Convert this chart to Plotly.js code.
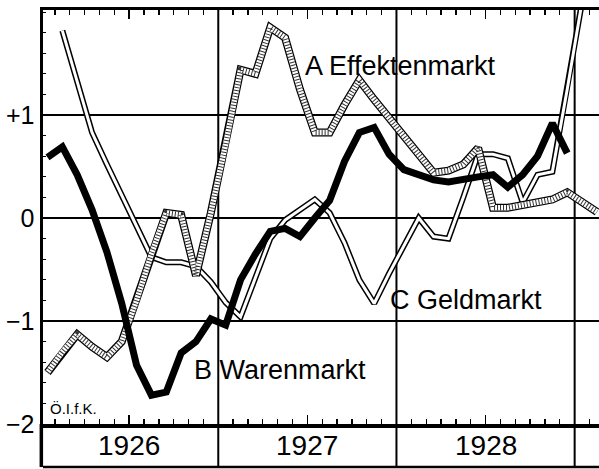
<!DOCTYPE html>
<html>
<head>
<meta charset="utf-8">
<script src="https://cdn.plot.ly/plotly-3.0.1.min.js"></script>
<style>html,body{margin:0;padding:0;background:#fff;}#chart{width:599px;height:469px;}</style>
</head>
<body>
<div id="chart"></div>
<script>
// month index: 0 = Jan 1926 (points at mid-month)
const months = Array.from({length: 38}, (_, i) => i);
const years = ['1926', '1927', '1928'];
const yearCenters = [5.5, 17.5, 29.5];
const yearBounds = [11.5, 23.5, 35.5];
const yTickVals = [-2, -1, 0, 1];
const yTickText = ['\u22122', '\u22121', '0', '+1'];

// A Effektenmarkt
const effekten = [-1.50, -1.30, -1.13, -1.25, -1.35, -1.20, -0.80, -0.35, 0.05, 0.03,
  -0.56, 0.05, 0.72, 1.44, 1.40, 1.85, 1.75, 1.25, 0.83, 0.83,
  1.10, 1.34, 1.15, 0.97, 0.79, 0.61, 0.44, 0.46, 0.52, 0.68,
  0.10, 0.10, 0.13, 0.15, 0.18, 0.25, 0.16, 0.06];
// B Warenmarkt
const waren = [0.59, 0.69, 0.42, 0.08, -0.33, -0.83, -1.43, -1.72, -1.69, -1.31,
  -1.20, -0.98, -1.04, -0.60, -0.35, -0.13, -0.10, -0.18, 0.00, 0.17,
  0.55, 0.83, 0.88, 0.62, 0.47, 0.42, 0.37, 0.35, 0.38, 0.40,
  0.42, 0.30, 0.42, 0.60, 0.92, 0.63, null, null];
// C Geldmarkt
const geld = [null, 1.82, 1.32, 0.83, 0.52, 0.22, -0.08, -0.38, -0.43, -0.43,
  -0.47, -0.62, -0.82, -0.96, -0.58, -0.20, -0.02, 0.08, 0.18, 0.05,
  -0.24, -0.60, -0.83, -0.54, -0.27, 0.00, -0.18, -0.20, 0.20, 0.62,
  0.62, 0.58, 0.15, 0.42, 0.45, 1.25, 2.10, null];

const monthBounds = Array.from({length: 38}, (_, i) => i - 0.5);

function tr(y, color, width, dash) {
  return {x: months, y: y, type: 'scatter', mode: 'lines', hoverinfo: 'skip',
    line: {color: color, width: width, dash: dash || 'solid'}, showlegend: false, connectgaps: false};
}

const traces = [
  tr(geld, '#000', 6), tr(geld, '#fff', 3),
  tr(effekten, '#000', 8), tr(effekten, '#fff', 5.5), tr(effekten, '#333', 5.5, '1px,2px'),
  tr(waren, '#000', 7)
];

const bandY = -0.104;
const shapes = [];
yearBounds.forEach(b => shapes.push({type: 'line', xref: 'x', yref: 'paper', x0: b, x1: b, y0: bandY, y1: 1,
  line: {color: '#000', width: 2}, layer: 'below'}));
shapes.push({type: 'line', xref: 'paper', yref: 'paper', x0: 0, x1: 1, y0: bandY, y1: bandY, line: {color: '#000', width: 2.5}});
shapes.push({type: 'line', xref: 'paper', yref: 'paper', x0: -0.003, x1: -0.003, y0: bandY, y1: 0, line: {color: '#000', width: 3.5}});

const font = 'Liberation Sans, Arial, sans-serif';
const annotations = [
  {x: 17.2, y: 1.48, xref: 'x', yref: 'y', text: 'A Effektenmarkt', showarrow: false, xanchor: 'left', yanchor: 'middle',
    font: {family: font, size: 27, color: '#000'}},
  {x: 9.73, y: -1.476, xref: 'x', yref: 'y', text: 'B Warenmarkt', showarrow: false, xanchor: 'left', yanchor: 'middle',
    font: {family: font, size: 27, color: '#000'}},
  {x: 22.93, y: -0.80, xref: 'x', yref: 'y', text: 'C Geldmarkt', showarrow: false, xanchor: 'left', yanchor: 'middle',
    font: {family: font, size: 27, color: '#000'}},
  {x: 0, y: -1.85, xref: 'x', yref: 'y', text: 'Ö.I.f.K.', showarrow: false, xanchor: 'left', yanchor: 'middle',
    font: {family: font, size: 15, color: '#000'}}
];
years.forEach((t, i) => annotations.push({x: yearCenters[i], y: -0.053, xref: 'x', yref: 'paper', text: t,
  showarrow: false, xanchor: 'center', yanchor: 'middle', font: {family: font, size: 28, color: '#000'}}));

const layout = {
  width: 599, height: 469,
  margin: {l: 43, r: 0, t: 10, b: 45},
  paper_bgcolor: '#fff', plot_bgcolor: '#fff',
  showlegend: false,
  xaxis: {
    range: [-0.303, 37.14], tickmode: 'array', tickvals: yearCenters, ticktext: years, showticklabels: false,
    ticks: 'inside', ticklen: 9, tickwidth: 1.5, tickcolor: '#000',
    showline: true, linewidth: 3.5, linecolor: '#000', mirror: 'ticks',
    showgrid: false, zeroline: false,
    minor: {tickmode: 'array', tickvals: monthBounds, ticks: 'inside', ticklen: 5, tickwidth: 1.3, tickcolor: '#000', showgrid: false}
  },
  yaxis: {
    range: [-2, 2.02], tickmode: 'array', tickvals: yTickVals, ticktext: yTickText,
    ticks: '', showline: true, linewidth: 3.5, linecolor: '#000', mirror: false,
    showgrid: true, gridcolor: '#000', gridwidth: 1.5, zeroline: false,
    tickfont: {family: font, size: 25, color: '#000'},
    minor: {tickmode: 'linear', tick0: 0, dtick: 0.2, ticks: 'inside', ticklen: 3, tickwidth: 1, tickcolor: '#000', showgrid: false}
  },
  shapes: shapes,
  annotations: annotations
};

Plotly.newPlot('chart', traces, layout, {displayModeBar: false, staticPlot: true});
</script>
</body>
</html>
